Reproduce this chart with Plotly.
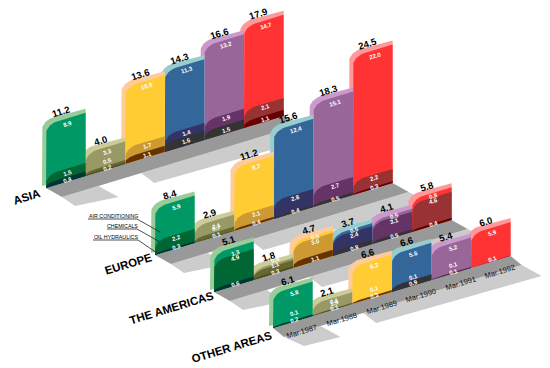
import math
import plotly.graph_objects as go

regions = ["ASIA", "EUROPE", "THE AMERICAS", "OTHER AREAS"]
periods = ["Mar.1987", "Mar.1988", "Mar.1989", "Mar.1990", "Mar.1991", "Mar.1992"]
legend_names = ["AIR CONDITIONING", "CHEMICALS", "OIL HYDRAULICS"]

total_labels_asia = ["11.2", "4.0", "13.6", "14.3", "16.6", "17.9"]
total_labels_europe = ["8.4", "2.9", "11.2", "15.6", "18.3", "24.5"]
total_labels_americas = ["5.1", "1.8", "4.7", "3.7", "4.1", "5.8"]
total_labels_other = ["6.1", "2.1", "6.6", "6.6", "5.4", "6.0"]

air_asia = [8.9, 3.3, 10.8, 11.3, 13.2, 14.7]
chem_asia = [1.5, 0.5, 1.7, 1.4, 1.9, 2.1]
oil_asia = [0.8, 0.2, 1.1, 1.6, 1.5, 1.1]

air_europe = [5.9, 2.1, 8.7, 12.4, 15.1, 22.0]
chem_europe = [2.2, 0.7, 2.1, 2.8, 2.7, 2.2]
oil_europe = [0.3, 0.1, 0.4, 0.4, 0.5, 0.3]

air_americas = [1.3, 0.4, 0.5, 0.5, 0.5, 0.8]
chem_americas = [4.9, 1.1, 3.0, 2.4, 3.1, 4.6]
oil_americas = [0.6, 0.3, 1.1, 0.8, 0.5, 0.4]

air_other = [5.8, 1.9, 6.2, 5.6, 5.2, 5.9]
chem_other = [0.1, 0.1, 0.1, 0.1, 0.1, 0.1]
oil_other = [0.2, 0.1, 0.3, 0.9, 0.1, 0.0]

all_air = [air_asia, air_europe, air_americas, air_other]
all_chem = [chem_asia, chem_europe, chem_americas, chem_other]
all_oil = [oil_asia, oil_europe, oil_americas, oil_other]
all_totals = [total_labels_asia, total_labels_europe, total_labels_americas, total_labels_other]

col_air = ["#009966", "#999966", "#ffcc33", "#336699", "#996699", "#ff3333"]
col_chem = ["#006633", "#666633", "#cc9933", "#333366", "#663366", "#993333"]
col_oil = ["#003333", "#4d4d1a", "#663300", "#333333", "#333333", "#660000"]
col_edge = ["#99cc99", "#cccc99", "#ffcc99", "#99cccc", "#cc99cc", "#ff9999"]

origins = [(46, 188), (155, 255), (214, 292), (273, 328)]
floor_off = [(16, 9), (16, 9), (16, 9), (11, 9)]
label_pos = [(26, 197, 11.5), (128, 264, 11.5), (171, 308, 11.5), (232, 347, 11.5)]
BW, STEP_Y, SCALE = 39.6, -12.0, 5.65
ANG = -17

fig = go.Figure()


def poly(xs, ys, color):
    fig.add_trace(go.Scatter(x=xs, y=ys, mode="lines", fill="toself", fillcolor=color,
                             line=dict(width=0, color=color), hoverinfo="skip", showlegend=False))


def front(x0, yb, h, rx=11.0):
    """Front face outline with a rounded upper-left corner, up to height h."""
    slope = STEP_Y / BW
    ry = min(9.0, h * 0.7)
    xs, ys = [x0], [yb]
    for k in range(0, 13):
        a = k / 12 * math.pi / 2
        px = x0 + rx * (1 - math.cos(a))
        top = yb + slope * (px - x0) - h
        ys.append(top + ry * (1 - math.sin(a)))
        xs.append(px)
    xs += [x0 + BW, x0 + BW]
    ys += [yb + STEP_Y - h, yb + STEP_Y]
    return xs, ys


annotations = []


def text(x, y, s, size, color="#000", angle=ANG, family="Liberation Sans", bold=False):
    annotations.append(dict(x=x, y=y, xref="x", yref="y", text=f"<b>{s}</b>" if bold else s,
                            showarrow=False, textangle=angle,
                            font=dict(size=size, color=color, family=family), xanchor="center", yanchor="middle"))


for r in range(4):
    ox, oy = origins[r]
    fx, fy = floor_off[r]
    n = len(periods)
    ex, ey = ox + n * BW, oy + n * STEP_Y
    sx, sy = ox + fx, oy + fy
    for t0, t1, lo in [(0, 0.92, (13 if r < 3 else 20, 9)), (2.0, n, (13, 10))]:
        ax, ay = sx + t0 * BW, sy + t0 * STEP_Y
        bx, by = sx + t1 * BW, sy + t1 * STEP_Y
        poly([ax, bx, bx + 20, ax + lo[0], ax], [ay, by, by + 11, ay + lo[1], ay], "#cccccc")
    poly([ox, ex, ex + fx, ox + fx, ox], [oy, ey, ey + fy, oy + fy, oy], "#999999")

    air, chem, oil = all_air[r], all_chem[r], all_oil[r]
    for i in range(n - 1, -1, -1):
        x0 = ox + i * BW
        yb = oy + i * STEP_Y
        h_oil = oil[i] * SCALE
        h_mid = (oil[i] + chem[i]) * SCALE
        h_all = (oil[i] + chem[i] + air[i]) * SCALE
        fxs, fys = front(x0, yb, h_all)
        bxs = [x + (-4 if x < x0 + BW - 1 else 0) for x in fxs]
        bys = [y - 4 for y in fys]
        bys[-1] = yb + STEP_Y
        bys[0] = yb - 2
        poly(bxs, bys, col_edge[i])
        poly(fxs, fys, col_air[i])
        mxs, mys = front(x0, yb, h_mid)
        poly(mxs, mys, col_chem[i])
        if h_oil > 0:
            oxs, oys = front(x0, yb, h_oil)
            poly(oxs, oys, col_oil[i])

        cx = x0 + BW / 2
        ybc = yb + STEP_Y / 2
        text(cx - 5, ybc - h_all - 7, all_totals[r][i], 9.5, bold=True)
        lx = cx + 2
        y_oil = min(ybc - h_oil / 2, ybc - 2.5) if h_oil > 0 else ybc + 3
        y_mid = min(ybc - h_mid + 3.5, y_oil - 6.5)
        y_air = ybc - h_all + 5
        if y_mid - y_air < 5:
            y_air = min(y_air, y_mid - 5) if air[i] < 1 else y_air
        text(lx, y_air, f"{air[i]:.1f}", 6, "#ffffff", bold=True)
        text(lx, y_mid, f"{chem[i]:.1f}", 6, "#ffffff", bold=True)
        if oil[i] > 0:
            text(lx, y_oil, f"{oil[i]:.1f}", 6, "#ffffff", bold=True)

    lx, ly, ls = label_pos[r]
    text(lx, ly, regions[r], ls, bold=True)

ox, oy = origins[3]
for i, p in enumerate(periods):
    text(ox + i * BW + BW / 2 + 9, oy + i * STEP_Y + STEP_Y / 2 + 9, p, 7.5, "#111111")

leg_text = [(113, 216), (122, 226), (116, 237)]
leg_under = [(88, 137, 219), (107, 137, 229), (93, 138, 240)]
leg_end = [(160, 232), (160, 242), (157, 253)]
for name, tp, u, e in zip(legend_names, leg_text, leg_under, leg_end):
    text(tp[0], tp[1], name, 5.3, "#000", 0)
    fig.add_trace(go.Scatter(x=[u[0], u[1], e[0]], y=[u[2], u[2], e[1]], mode="lines",
                             line=dict(width=0.8, color="#222222"), hoverinfo="skip", showlegend=False))

fig.update_layout(width=550, height=368, margin=dict(l=0, r=0, t=0, b=0),
                  paper_bgcolor="#ffffff", plot_bgcolor="#ffffff", showlegend=False,
                  annotations=annotations,
                  xaxis=dict(range=[0, 550], visible=False, fixedrange=True),
                  yaxis=dict(range=[368, 0], visible=False, fixedrange=True))
fig.write_html("out.html", config=dict(displayModeBar=False),
               post_script="document.body.style.margin='0';document.body.style.overflow='hidden';")
